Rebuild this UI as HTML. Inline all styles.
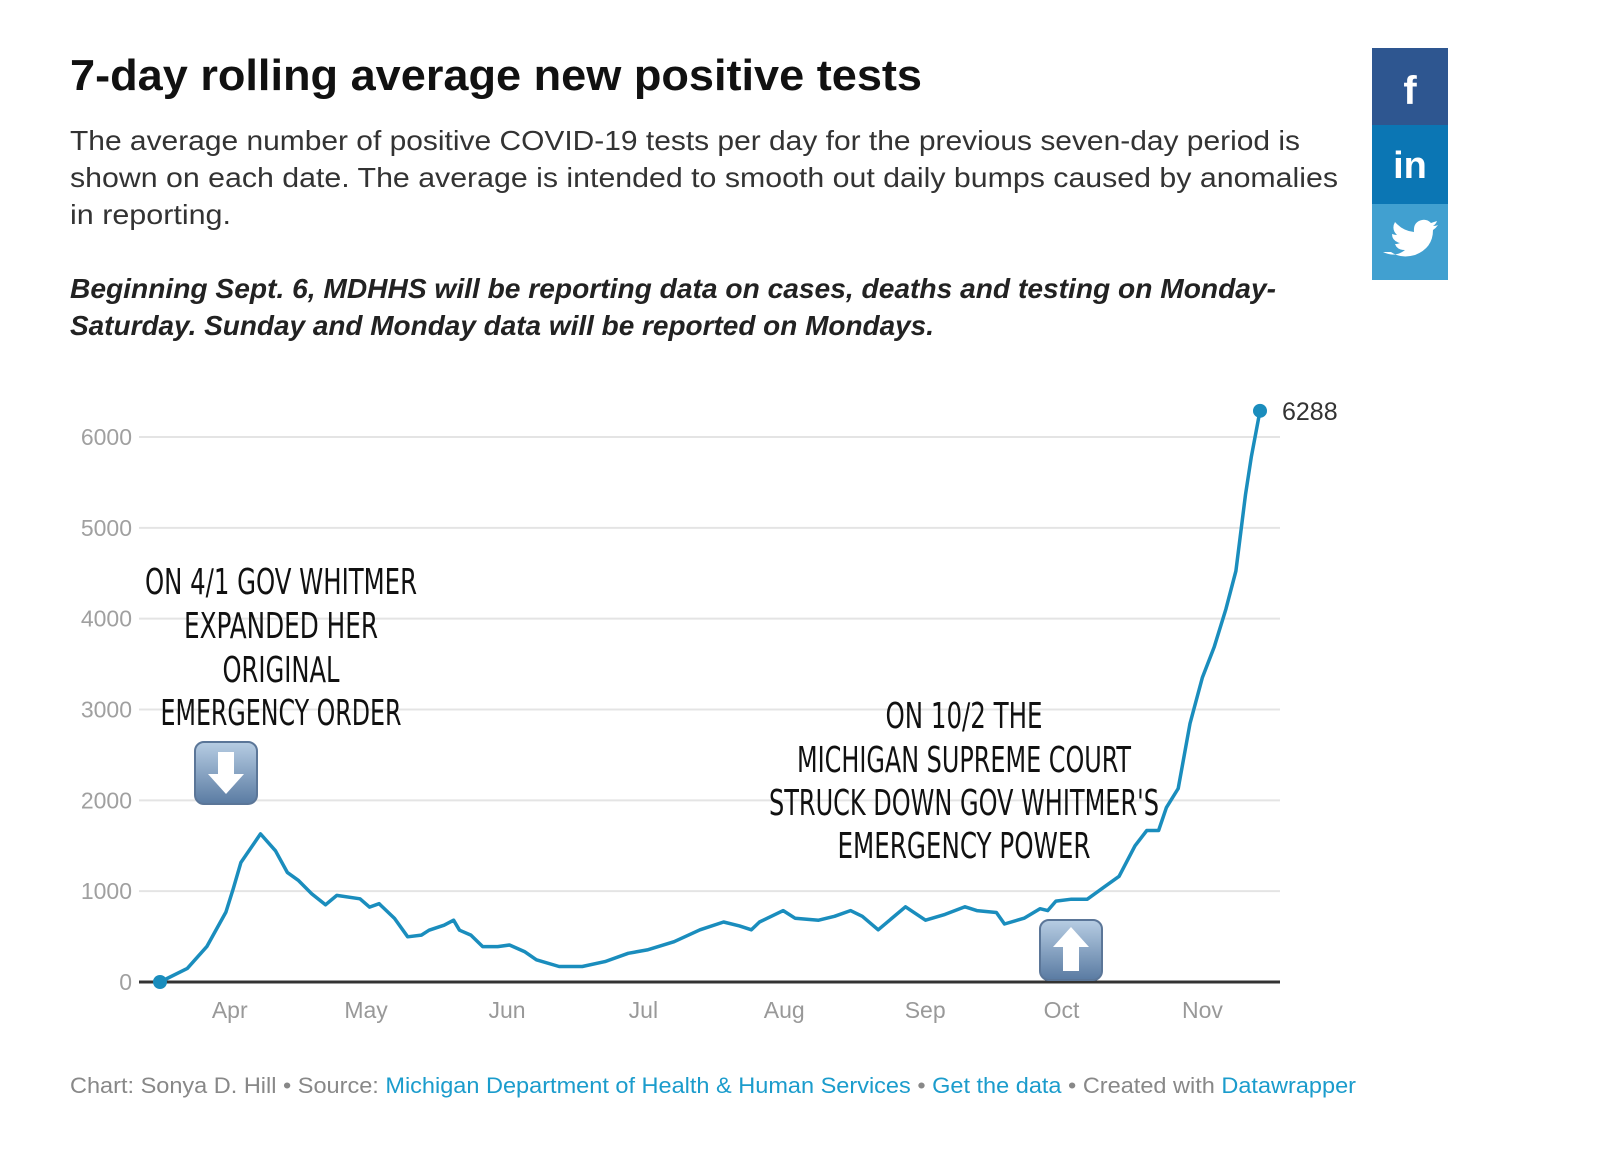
<!DOCTYPE html>
<html><head><meta charset="utf-8"><style>
html,body{margin:0;padding:0;background:#fff;}
svg{display:block;}
.hand{font-family:"DejaVu Sans Condensed","DejaVu Sans","Liberation Sans",sans-serif;font-weight:normal;fill:#111;}
</style></head><body>
<svg id="chart" width="1600" height="1164" viewBox="0 0 1600 1164" xmlns="http://www.w3.org/2000/svg">
<defs>
<linearGradient id="btn" x1="0" y1="0" x2="0" y2="1"><stop offset="0" stop-color="#b7cde3"/><stop offset="1" stop-color="#5a7ba2"/></linearGradient>
</defs>
<text x="70" y="90" font-family="Liberation Sans, sans-serif" font-weight="bold" font-size="44" fill="#111" textLength="852" lengthAdjust="spacingAndGlyphs">7-day rolling average new positive tests</text>
<g font-family="Liberation Sans, sans-serif" font-size="28" fill="#333">
<text x="70" y="150" textLength="1230" lengthAdjust="spacingAndGlyphs">The average number of positive COVID-19 tests per day for the previous seven-day period is</text>
<text x="70" y="187" textLength="1268" lengthAdjust="spacingAndGlyphs">shown on each date. The average is intended to smooth out daily bumps caused by anomalies</text>
<text x="70" y="224" textLength="161" lengthAdjust="spacingAndGlyphs">in reporting.</text>
</g>
<g font-family="Liberation Sans, sans-serif" font-size="28" font-weight="bold" font-style="italic" fill="#222">
<text x="70" y="298" textLength="1206" lengthAdjust="spacingAndGlyphs">Beginning Sept. 6, MDHHS will be reporting data on cases, deaths and testing on Monday-</text>
<text x="70" y="335" textLength="864" lengthAdjust="spacingAndGlyphs">Saturday. Sunday and Monday data will be reported on Mondays.</text>
</g>
<g>
<rect x="1372" y="48" width="76" height="77" fill="#2e5690"/>
<text x="1410" y="104" text-anchor="middle" font-family="Liberation Sans, sans-serif" font-weight="bold" font-size="40" fill="#fff">f</text>
<rect x="1372" y="125" width="76" height="79" fill="#0b76b4"/>
<text x="1410" y="178" text-anchor="middle" font-family="Liberation Sans, sans-serif" font-weight="bold" font-size="38" fill="#fff">in</text>
<rect x="1372" y="204" width="76" height="76" fill="#41a0d0"/>
<path transform="translate(-12,0)" d="M1395 252 q12 6 22 -2 q-8 0 -10 -6 q3 0 5 -1 q-8 -2 -8 -9 q3 1 5 1 q-6 -6 -2 -13 q8 9 19 10 q-1 -10 8 -12 q5 -1 9 3 q3 -1 6 -2 q-1 3 -4 5 q3 0 5 -1 q-2 3 -5 5 q0 18 -18 25 q-14 4 -24 -3z" fill="#fff"/>
</g>
<g id="plot"></g>
<g font-size="36">
<text class="hand" x="281" y="594" text-anchor="middle" textLength="272" lengthAdjust="spacingAndGlyphs">ON 4/1 GOV WHITMER</text>
<text class="hand" x="281" y="638" text-anchor="middle" textLength="194" lengthAdjust="spacingAndGlyphs">EXPANDED HER</text>
<text class="hand" x="281" y="682" text-anchor="middle" textLength="117" lengthAdjust="spacingAndGlyphs">ORIGINAL</text>
<text class="hand" x="281" y="725" text-anchor="middle" textLength="241" lengthAdjust="spacingAndGlyphs">EMERGENCY ORDER</text>
</g>
<g font-size="36">
<text class="hand" x="964" y="728" text-anchor="middle" textLength="157" lengthAdjust="spacingAndGlyphs">ON 10/2 THE</text>
<text class="hand" x="964" y="772" text-anchor="middle" textLength="334" lengthAdjust="spacingAndGlyphs">MICHIGAN SUPREME COURT</text>
<text class="hand" x="964" y="815" text-anchor="middle" textLength="390" lengthAdjust="spacingAndGlyphs">STRUCK DOWN GOV WHITMER'S</text>
<text class="hand" x="964" y="858" text-anchor="middle" textLength="253" lengthAdjust="spacingAndGlyphs">EMERGENCY POWER</text>
</g>
<g>
<rect x="195" y="742" width="62" height="62" rx="9" fill="url(#btn)" stroke="#5b7698" stroke-width="2"/>
<path d="M218 752 h16 v22 h10 l-18 20 l-18 -20 h10z" fill="#fff"/>
</g>
<g>
<rect x="1040" y="920" width="62" height="60" rx="9" fill="url(#btn)" stroke="#5b7698" stroke-width="2"/>
<path d="M1071 927 l18 20 h-10 v24 h-16 v-24 h-10z" fill="#fff"/>
</g>
<g font-family="Liberation Sans, sans-serif" font-size="22">
<text x="70" y="1093" fill="#888" textLength="1286" lengthAdjust="spacingAndGlyphs">Chart: Sonya D. Hill • Source: <tspan fill="#1b9ccc">Michigan Department of Health &amp; Human Services</tspan> • <tspan fill="#1b9ccc">Get the data</tspan> • Created with <tspan fill="#1b9ccc">Datawrapper</tspan></text>
</g>
</svg>
<script>
const yTicks = [0, 1000, 2000, 3000, 4000, 5000, 6000];
const monthLabels = ["Apr","May","Jun","Jul","Aug","Sep","Oct","Nov"];
const monthDays = [16, 46, 77, 107, 138, 169, 199, 230];
const days = [0,6,10.3,14.5,16.1,17.8,22.1,25.4,28,30.5,33.4,36.4,38.9,44,46.1,48.2,51.6,54.5,57.5,59.2,62.5,64.6,65.9,68.4,71,74.3,76.9,80.2,82.8,87.8,92.9,97.9,103,107.2,113.1,118.8,124,127.5,130.1,131.9,137.1,139.7,144.9,148.4,151.9,154.5,158,164,168.4,172.7,177.1,179.7,184,185.8,190.1,193.6,195.3,197.1,200.5,204,207.5,211,214.5,217.1,219.7,221.4,224,226.6,229.3,231.9,234.5,236.7,238.8,240.1,242];
const values = [0,150,390,770,1025,1316,1630,1444,1207,1116,970,850,953,916,825,862,700,498,516,570,625,680,570,516,390,390,407,335,244,171,171,225,316,353,444,575,660,618,575,660,786,702,680,723,786,723,575,828,680,744,828,786,765,639,702,807,786,891,912,912,1038,1164,1500,1668,1668,1920,2130,2845,3349,3685,4105,4525,5366,5786,6288];
const lastLabel = "6288";

const NS = "http://www.w3.org/2000/svg";
const plot = document.getElementById("plot");
const x0 = 160, x1 = 1260, dMax = 242, yZero = 982, yTop = 437, vTop = 6000;
const xScale = d => x0 + (x1 - x0) * d / dMax;
const yScale = v => yZero - (yZero - yTop) * v / vTop;
function mk(tag, attrs) { const e = document.createElementNS(NS, tag); for (const k in attrs) e.setAttribute(k, attrs[k]); plot.appendChild(e); return e; }

yTicks.forEach(t => {
  if (t > 0) {
    const g = mk("line", {x1: 139, x2: 1280, y1: yScale(t), y2: yScale(t), stroke: "#e4e4e4", "stroke-width": 2});
    
    
  }
  const l = mk("text", {x: 132, y: yScale(t) + 8, "text-anchor": "end", "font-family": "Liberation Sans, sans-serif", "font-size": 23, fill: "#a0a0a0"});
  l.textContent = t;
  
  
});
const ax = mk("line", {x1: 139, x2: 1280, y1: yZero, y2: yZero, stroke: "#333", "stroke-width": 3});


monthLabels.forEach((m, i) => {
  const t = mk("text", {x: xScale(monthDays[i]) - 3, y: 1018, "text-anchor": "middle", "font-family": "Liberation Sans, sans-serif", "font-size": 23, fill: "#999"});
  t.textContent = m;
  
  
});
const pts = days.map((d, i) => xScale(d).toFixed(1) + "," + yScale(values[i]).toFixed(1)).join(" ");
const line = mk("polyline", {points: pts, fill: "none", stroke: "#1a8dbd", "stroke-width": 3.5, "stroke-linejoin": "round", "stroke-linecap": "round"});


const s = mk("circle", {cx: xScale(days[0]), cy: yScale(values[0]), r: 7, fill: "#1a8dbd"});


const n = days.length - 1;
const e = mk("circle", {cx: xScale(days[n]), cy: yScale(values[n]), r: 7, fill: "#1a8dbd"});


const el = mk("text", {x: xScale(days[n]) + 22, y: yScale(values[n]) + 9, "font-family": "Liberation Sans, sans-serif", "font-size": 25, fill: "#333"});
el.textContent = lastLabel;


</script>
</body></html>
